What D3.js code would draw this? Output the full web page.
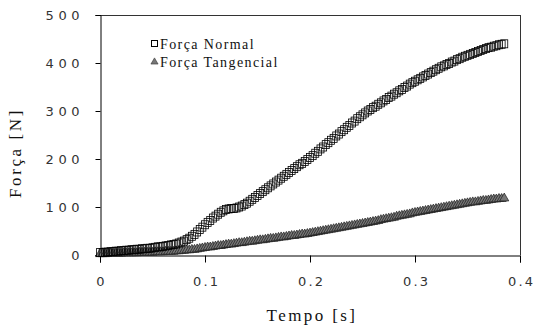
<!DOCTYPE html>
<html><head><meta charset="utf-8">
<script src="https://cdn.jsdelivr.net/npm/d3@7"></script>
<style>body{margin:0;background:#fff}svg{display:block}</style>
</head><body><svg id="c" width="536" height="330"></svg>
<script>
const times = [
0.0000,0.0025,0.0050,0.0075,0.0100,0.0125,0.0150,0.0175,0.0200,0.0225,
0.0250,0.0275,0.0300,0.0325,0.0350,0.0375,0.0400,0.0425,0.0450,0.0475,
0.0500,0.0525,0.0550,0.0575,0.0600,0.0625,0.0650,0.0675,0.0700,0.0725,
0.0750,0.0775,0.0800,0.0825,0.0850,0.0875,0.0900,0.0925,0.0950,0.0975,
0.1000,0.1025,0.1050,0.1075,0.1100,0.1125,0.1150,0.1175,0.1200,0.1225,
0.1250,0.1275,0.1300,0.1325,0.1350,0.1375,0.1400,0.1425,0.1450,0.1475,
0.1500,0.1525,0.1550,0.1575,0.1600,0.1625,0.1650,0.1675,0.1700,0.1725,
0.1750,0.1775,0.1800,0.1825,0.1850,0.1875,0.1900,0.1925,0.1950,0.1975,
0.2000,0.2025,0.2050,0.2075,0.2100,0.2125,0.2150,0.2175,0.2200,0.2225,
0.2250,0.2275,0.2300,0.2325,0.2350,0.2375,0.2400,0.2425,0.2450,0.2475,
0.2500,0.2525,0.2550,0.2575,0.2600,0.2625,0.2650,0.2675,0.2700,0.2725,
0.2750,0.2775,0.2800,0.2825,0.2850,0.2875,0.2900,0.2925,0.2950,0.2975,
0.3000,0.3025,0.3050,0.3075,0.3100,0.3125,0.3150,0.3175,0.3200,0.3225,
0.3250,0.3275,0.3300,0.3325,0.3350,0.3375,0.3400,0.3425,0.3450,0.3475,
0.3500,0.3525,0.3550,0.3575,0.3600,0.3625,0.3650,0.3675,0.3700,0.3725,
0.3750,0.3775,0.3800,0.3825,0.3850];
const forcaNormal = [
5,5,6,6,7,7,8,8,9,9,
10,10,11,11,12,12,13,13,14,14,
15,16,17,17,18,19,20,21,22,23,
25,27,29,32,35,39,43,48,53,58,
63,68,72,77,81,85,89,92,95,96,
97,97,98,100,102,105,108,112,116,120,
124,128,132,136,140,144,148,152,156,160,
164,168,172,176,180,184,188,191,195,199,
203,207,212,216,221,225,230,234,239,243,
248,252,257,261,266,270,275,279,284,288,
292,296,300,303,307,310,314,317,321,324,
328,331,335,338,342,345,349,352,356,359,
362,365,368,371,374,377,380,383,386,389,
392,394,397,399,402,404,407,409,412,414,
416,418,420,422,424,426,428,430,432,433,
435,436,438,439,440];
const forcaTangencial = [
0,0,0,1,1,1,1,1,1,2,
2,2,2,2,2,3,3,3,3,3,
3,4,4,4,4,5,5,5,5,6,
6,7,7,8,8,9,9,10,11,12,
13,14,14,15,16,17,17,18,19,20,
20,21,22,23,23,24,25,26,26,27,
28,29,29,30,31,32,32,33,34,35,
35,36,37,38,38,39,40,41,41,42,
43,44,45,46,47,48,49,50,51,52,
53,54,55,56,57,58,59,60,61,62,
63,64,65,66,67,68,69,71,72,73,
74,75,76,78,79,80,81,82,83,85,
86,87,88,89,90,91,92,93,94,95,
96,97,98,99,100,101,102,103,104,105,
106,107,108,108,109,110,111,111,112,113,
114,114,115,115,116];
const xTicks = [0,0.1,0.2,0.3,0.4];
const xTickLabels = ["0","0.1","0.2","0.3","0.4"];
const yTicks = [0,100,200,300,400,500];
const yTickLabels = ["0","100","200","300","400","500"];
const seriesNames = ["Força Normal","Força Tangencial"];
const xTitle = "Tempo [s]";
const yTitle = "Força [N]";

const SERIF = "Liberation Serif";
const SANS = "DejaVu Sans";
const svg = d3.select("#c");
const L=100,R=520,T=15,B=255;
const x = d3.scaleLinear().domain([0,0.4]).range([L,R]);
const y = d3.scaleLinear().domain([0,500]).range([B,T]);

svg.append("line").attr("x1",L).attr("x2",R).attr("y1",T+0.5).attr("y2",T+0.5).attr("stroke","#333");
svg.append("line").attr("x1",R+0.5).attr("x2",R+0.5).attr("y1",T).attr("y2",B).attr("stroke","#333");

function charW(s,dw,pw){let w=0;for(const c of s)w+=(c==="."?pw:dw);return w;}

const xa = svg.append("g").attr("transform",`translate(0,${B+0.5})`)
 .call(d3.axisBottom(x).tickValues(xTicks).tickSize(7).tickFormat((d,i)=>xTickLabels[i]));
xa.select(".domain").attr("stroke","#000");
xa.selectAll(".tick line").attr("stroke","#000");
xa.selectAll(".tick text").attr("font-family",SANS).attr("font-size",13).attr("fill","#333")
 .attr("y",30).attr("dy",0)
 .each(function(d,i){const s=xTickLabels[i];d3.select(this).attr("textLength",charW(s,10.5,4)).attr("lengthAdjust","spacing");});

const ya = svg.append("g").attr("transform",`translate(${L+0.5},0)`)
 .call(d3.axisLeft(y).tickValues(yTicks).tickSize(5).tickFormat((d,i)=>yTickLabels[i]));
ya.select(".domain").attr("stroke","#000");
ya.selectAll(".tick line").attr("stroke","#000");
ya.selectAll(".tick text").attr("font-family",SANS).attr("font-size",13).attr("fill","#333")
 .attr("x",-21).attr("dy","0.36em")
 .each(function(d,i){const s=yTickLabels[i];d3.select(this).attr("textLength",charW(s,11.3,4)).attr("lengthAdjust","spacing");});

svg.append("text").attr("x",(L+R)/2+2).attr("y",321).attr("text-anchor","middle")
 .attr("font-family",SERIF).attr("font-size",17).attr("fill","#111")
 .attr("letter-spacing",2.4).text(xTitle);
svg.append("text").attr("transform","translate(21,153) rotate(-90)").attr("text-anchor","middle")
 .attr("font-family",SERIF).attr("font-size",17).attr("fill","#111")
 .attr("letter-spacing",2.6).text(yTitle);

const normal = times.map((t,i)=>({t,v:forcaNormal[i]}));
const tang = times.map((t,i)=>({t,v:forcaTangencial[i]}));

const tri = d3.symbol().type(d3.symbolTriangle).size(36);
svg.append("g").selectAll("path").data(tang).join("path")
 .attr("d",tri).attr("transform",d=>`translate(${x(d.t)},${y(d.v)-1})`)
 .attr("fill","#777").attr("stroke","#1a1a1a").attr("stroke-width",0.7);

const sw=7, sh=8;
svg.append("g").selectAll("rect").data(normal).join("rect")
 .attr("x",d=>x(d.t)-sw/2).attr("y",d=>y(d.v)-sh/2).attr("width",sw).attr("height",sh)
 .attr("fill","none").attr("stroke","#000").attr("stroke-width",0.8);

svg.append("rect").attr("x",151.5).attr("y",40.5).attr("width",6).attr("height",6)
 .attr("fill","#fff").attr("stroke","#000");
svg.append("path").attr("d",d3.symbol().type(d3.symbolTriangle).size(22)).attr("transform","translate(154.5,62)")
 .attr("fill","#777").attr("stroke","#333").attr("stroke-width",0.6);
svg.append("text").attr("x",160).attr("y",48.5).attr("font-family",SERIF).attr("font-size",14).attr("fill","#111")
 .attr("letter-spacing",1.4).text(seriesNames[0]);
svg.append("text").attr("x",160).attr("y",67).attr("font-family",SERIF).attr("font-size",14).attr("fill","#111")
 .attr("letter-spacing",1.4).text(seriesNames[1]);
</script></body></html>
